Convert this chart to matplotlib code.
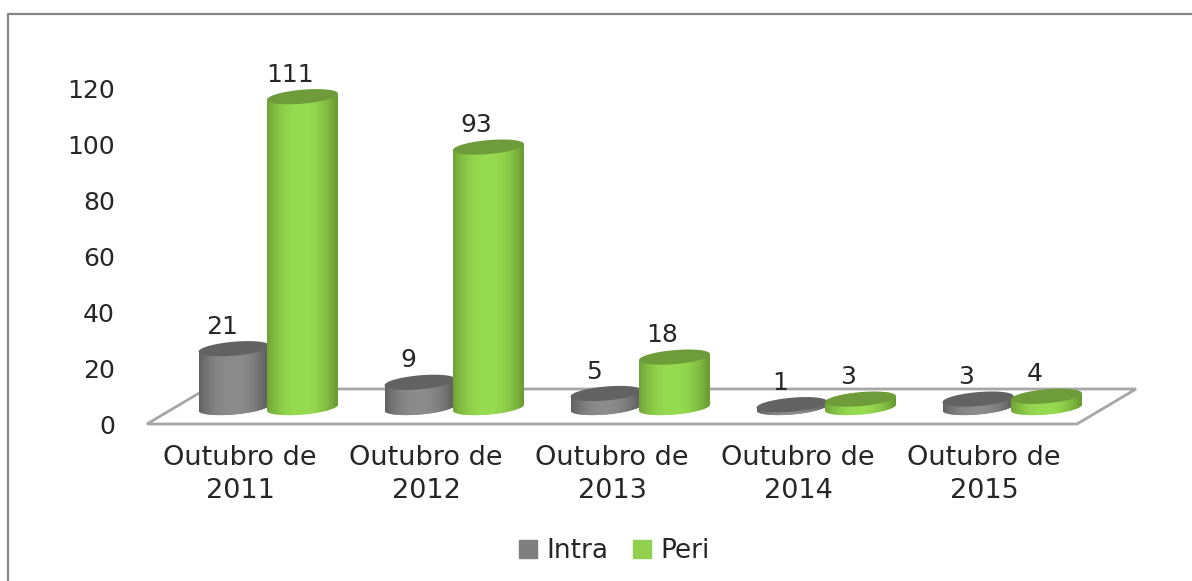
import numpy as np
import matplotlib
matplotlib.use("Agg")
import matplotlib.pyplot as plt
from matplotlib.lines import Line2D
from matplotlib.patches import Patch, Polygon
from matplotlib.colors import to_rgb

categories = ["Outubro de\n2011", "Outubro de\n2012", "Outubro de\n2013", "Outubro de\n2014", "Outubro de\n2015"]
intra = [21, 9, 5, 1, 3]
peri = [111, 93, 18, 3, 4]
y_ticks = [0, 20, 40, 60, 80, 100, 120]

W, H = 1192, 581
plt.rcParams["font.family"] = "DejaVu Sans"
TXT = "#262626"
FS = 18
FS_X = 19.5
FS_LEG = 19
fig = plt.figure(figsize=(W / 100, H / 100), dpi=100, facecolor="white")
ax = fig.add_axes([147 / W, 1 - 424 / H, 930 / W, 336 / H])

UY = 336 / 120          # px per value
UX = 186                # px per category
BASE = 16.5 / UY        # 3D lift of the bar base above the front edge
RY = 7 / UY
TILT = 3 / UY
HALF = 35.5 / UX


def cylinder(xc, value, edge, mid, top):
    edge, mid = np.array(to_rgb(edge)), np.array(to_rgb(mid))
    t = np.linspace(-1, 1, 141)
    f = np.clip(1 - np.abs(t + 0.05) ** 2.2, 0, 1)[None, :, None]
    grad = edge[None, None, :] + (mid - edge)[None, None, :] * f
    th = np.linspace(np.pi, 2 * np.pi, 60)
    lower = np.c_[xc + HALF * np.cos(th), BASE + RY * np.sin(th) + TILT * np.cos(th)]
    upper = np.c_[xc + HALF * np.cos(th[::-1]), BASE + value + TILT * np.cos(th[::-1])]
    sil = Polygon(np.r_[lower, upper], closed=True, facecolor="none", edgecolor="none",
                  zorder=3, clip_on=False)
    ax.add_patch(sil)
    b = ax.bar(xc, value + 2 * RY + 2 * TILT, bottom=BASE - RY - TILT, width=2 * HALF,
               color=tuple(mid), linewidth=0, zorder=3)
    b[0].set_clip_path(sil)
    b[0].set_clip_box(fig.bbox)
    im = ax.imshow(np.clip(grad, 0, 1),
                   extent=(xc - HALF, xc + HALF, BASE - RY - TILT, BASE + value + TILT + RY),
                   aspect="auto", interpolation="bilinear", zorder=3)
    im.set_clip_path(sil)
    im.set_clip_box(fig.bbox)
    th2 = np.linspace(0, 2 * np.pi, 80)
    ax.add_patch(Polygon(np.c_[xc + HALF * np.cos(th2),
                               BASE + value + RY * np.sin(th2) + TILT * np.cos(th2)],
                         closed=True, facecolor=top, edgecolor="none",
                         clip_on=False, zorder=3))
    ax.annotate(str(value), (xc, BASE + value), xytext=(-8.8, 15.8),
                textcoords="offset points", ha="center", va="center",
                fontsize=FS, color=TXT, zorder=5, annotation_clip=False)


# floor
ax.add_patch(Polygon([(-0.5, 0), (4.5, 0), (4.5 + 59 / UX, 35 / UY), (-0.5 + 59 / UX, 35 / UY)],
                     closed=True, facecolor="white", edgecolor="#a6a6a6", linewidth=2,
                     clip_on=False, zorder=1))

x = np.arange(len(categories))
for i in x:
    cylinder(i - 0.032, intra[i], "#5c5c5c", "#8c8c8c", "#626262")
    cylinder(i + 0.336, peri[i], "#6c9c34", "#97dc50", "#6f9c3a")

ax.set_xlim(-0.5, 4.5)
ax.set_ylim(0, 120)
ax.set_aspect("auto")
ax.set_xticks(x, categories)
ax.set_yticks(y_ticks)
ax.tick_params(axis="y", length=0, labelsize=FS, labelcolor=TXT, pad=23)
ax.tick_params(axis="x", length=0, labelsize=FS_X, labelcolor=TXT, pad=15)
for lab in ax.get_xticklabels():
    lab.set_linespacing(1.35)
for lab in ax.get_yticklabels():
    lab.set_y(lab.get_position()[1])
for s in ax.spines.values():
    s.set_visible(False)
ax.patch.set_alpha(0)

ax.legend(handles=[Patch(color="#7f7f7f", label="Intra"), Patch(color="#92d050", label="Peri")],
          loc="center", bbox_to_anchor=(614.5 / W, 1 - 551 / H), bbox_transform=fig.transFigure,
          ncol=2, frameon=False, fontsize=FS_LEG, labelcolor=TXT, handlelength=0.68, handleheight=0.68,
          handletextpad=0.35, columnspacing=0.95)

# outer frame
fig.add_artist(Line2D([8 / W, 8 / W, 1], [0, 1 - 14 / H, 1 - 14 / H], color="#868686", linewidth=1.6))

fig.savefig("out.png", dpi=100)
